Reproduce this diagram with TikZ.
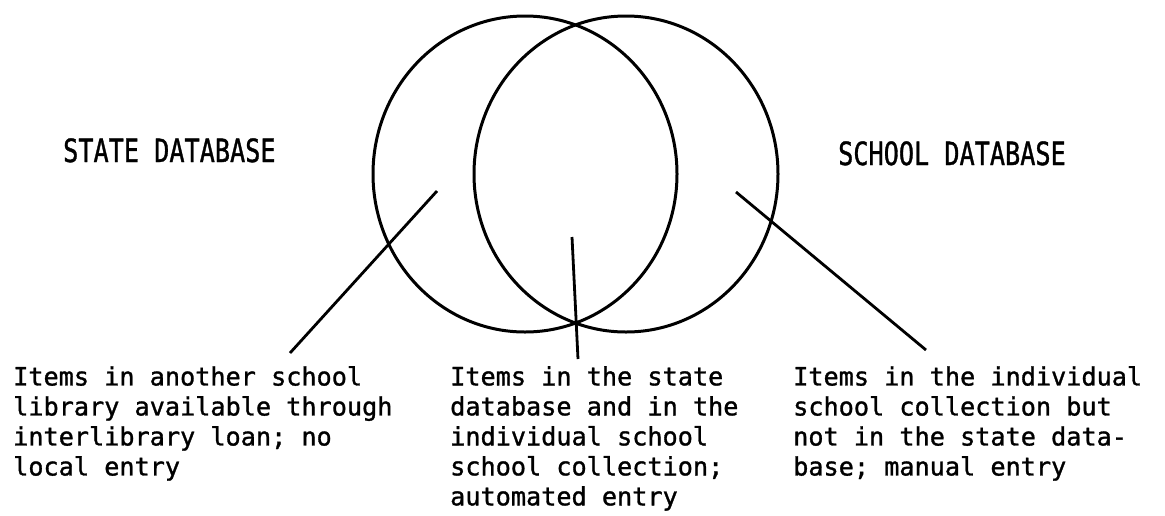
\documentclass[tikz,border=0pt]{standalone}
\usepackage{fontspec}
\usetikzlibrary{shapes.geometric}
\newfontfamily\typer[FakeBold=1.2]{DejaVu Sans Mono}
\newcommand\tall[1]{\scalebox{1}[1.27]{#1}}
\tikzset{
  venn/.style={ellipse,draw,line width=3pt,minimum width=304pt,minimum height=316pt,inner sep=0pt},
  note/.style={anchor=north west,align=left,inner sep=0pt,font=\typer\fontsize{25.2}{30}\selectfont},
  heading/.style={anchor=base west,inner sep=0pt,font=\typer\fontsize{25.2}{30}\selectfont},
  pin/.style={line width=2.8pt}
}

\begin{document}
\begin{tikzpicture}[x=1pt,y=-1pt]
    \useasboundingbox (0,0) rectangle (1165,515);
    % the two overlapping sets
    \node[venn] (state) at (525,174) {};
    \node[venn] (school) at (626,174) {};
    \node[heading] (statelbl) at (63,162) {\tall{STATE DATABASE}};
    \node[heading] (schoollbl) at (838,165) {\tall{SCHOOL DATABASE}};
    % explanations below
    \node[note] (onlystate) at (13,366) {Items in another school\\library available through\\interlibrary loan; no\\local entry};
    \node[note] (both) at (450,366) {Items in the state\\database and in the\\individual school\\school collection;\\automated entry};
    \node[note] (onlyschool) at (793,366) {Items in the individual\\school collection but\\not in the state data-\\base; manual entry};
    % pointers
    \coordinate (p1) at (437,191);
    \coordinate (p2) at (572,237);
    \coordinate (p3) at (736,192);
    \draw[pin] (p1) -- ([shift={(277,-13)}]onlystate.north west);
    \draw[pin] (p2) -- ([shift={(128,-7)}]both.north west);
    \draw[pin] (p3) -- ([shift={(133,-16)}]onlyschool.north west);
  \end{tikzpicture}
\end{document}
